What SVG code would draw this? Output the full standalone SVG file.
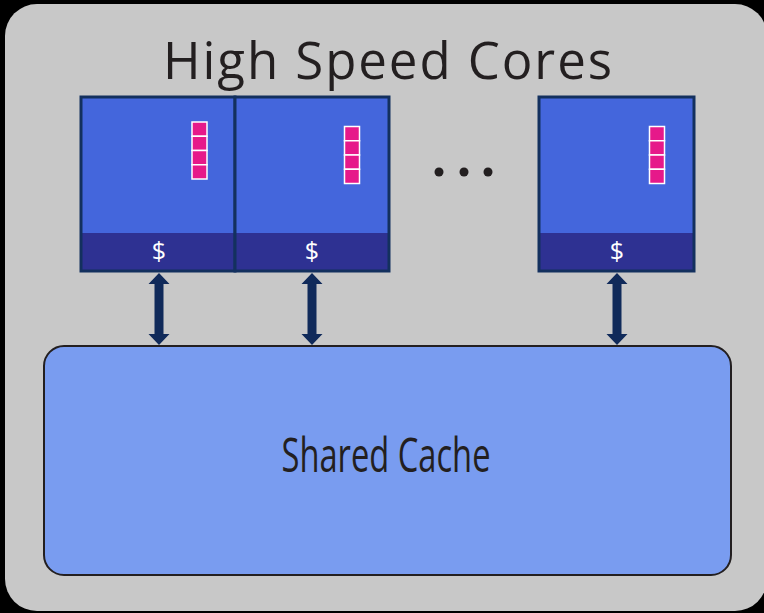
<svg xmlns="http://www.w3.org/2000/svg" width="764" height="613" viewBox="0 0 764 613">
<style>
.core{fill:#4466dc}
.band{fill:#2e3192}
.frame{fill:none;stroke:#13305e;stroke-width:3}
.reg{fill:#e6198a;stroke:#ffffff;stroke-width:1.5}
.dollar{font-family:"Open Sans",sans-serif;font-size:25px;fill:#ffffff;text-anchor:middle}
.arrow{fill:#102a5a}
</style>
<defs>
<g id="regs">
<rect class="reg" x="0" y="0" width="15" height="14.25"/>
<rect class="reg" x="0" y="14.25" width="15" height="14.25"/>
<rect class="reg" x="0" y="28.5" width="15" height="14.25"/>
<rect class="reg" x="0" y="42.75" width="15" height="14.25"/>
</g>
<path id="dbl" d="M0,0 L10.5,11 L4.5,11 L4.5,61 L10.5,61 L0,72 L-10.5,61 L-4.5,61 L-4.5,11 L-10.5,11 Z"/>
</defs>
<rect x="0" y="0" width="764" height="613" fill="#000000"/>
<rect id="board" x="5" y="4" width="762" height="607" rx="32" fill="#c8c8c8"/>
<text id="title" x="163" y="79" textLength="449" lengthAdjust="spacing" font-family="'Open Sans',sans-serif" font-size="51" fill="#231f20">High Speed Cores</text>
<g id="core1">
<rect class="core" x="81" y="97" width="154" height="174"/>
<rect class="band" x="81" y="233" width="154" height="38"/>
<rect class="frame" x="81" y="97" width="154" height="174"/>
<use href="#regs" x="192" y="122"/>
<text class="dollar" x="159" y="260">$</text>
</g>
<g id="core2">
<rect class="core" x="235" y="97" width="154" height="174"/>
<rect class="band" x="235" y="233" width="154" height="38"/>
<rect class="frame" x="235" y="97" width="154" height="174"/>
<use href="#regs" x="344.5" y="126.5"/>
<text class="dollar" x="312" y="260">$</text>
</g>
<g id="dots" fill="#231f20">
<circle cx="439" cy="172" r="4.5"/>
<circle cx="464" cy="172" r="4.5"/>
<circle cx="488" cy="172" r="4.5"/>
</g>
<g id="core3">
<rect class="core" x="539" y="97" width="155" height="174"/>
<rect class="band" x="539" y="233" width="155" height="38"/>
<rect class="frame" x="539" y="97" width="155" height="174"/>
<use href="#regs" x="649.5" y="126.5"/>
<text class="dollar" x="617" y="260">$</text>
</g>
<g id="cache">
<rect x="44" y="346" width="687" height="229" rx="20" fill="#799cf0" stroke="#231f20" stroke-width="2"/>
<text x="386" y="472" textLength="209" lengthAdjust="spacingAndGlyphs" text-anchor="middle" font-family="'Open Sans',sans-serif" font-size="47" fill="#231f20">Shared Cache</text>
</g>
<g id="connectors" class="arrow">
<use href="#dbl" x="159" y="273"/>
<use href="#dbl" x="312" y="273"/>
<use href="#dbl" x="617" y="273"/>
</g>
</svg>
